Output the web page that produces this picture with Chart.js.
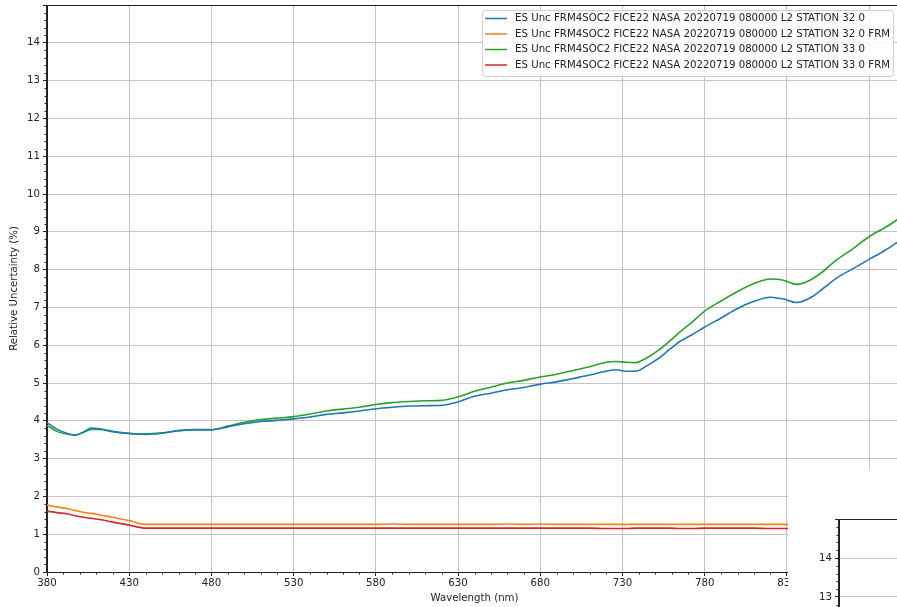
<!DOCTYPE html>
<html>
<head>
<meta charset="utf-8">
<script src="https://cdn.jsdelivr.net/npm/chart.js@4.4.0/dist/chart.umd.min.js"></script>
<style>
  html, body { margin: 0; padding: 0; background: #fff; }
  #frame { position: relative; width: 897px; height: 607px; overflow: hidden; background: #fff; }
  #main-wrap { position: absolute; left: 0; top: 0; }
  /* second copy of the figure that sits on top of the bottom right corner */
  #cover { position: absolute; left: 788px; top: 469px; width: 200px; height: 200px; background: #fff; overflow: hidden; }
</style>
</head>
<body>
<div id="frame">
  <div id="main-wrap"><canvas id="main" width="920" height="607"></canvas></div>
  <div id="cover"><canvas id="copy" width="960" height="670"></canvas></div>
</div>
<script>
//shortcut
function el(id) { return document.getElementById(id); }

// wavelengths (nm) shared by every series
const wavelengths = [380, 386, 392, 397, 402, 407, 412, 420, 430, 440, 450, 460, 470, 480, 490,
  500, 510, 520, 530, 540, 550, 560, 570, 580, 590, 600, 610, 620, 630, 640, 650, 660, 670, 680,
  690, 700, 710, 720, 726, 732, 738, 745, 752, 759, 765, 772, 780, 790, 800, 810, 820, 828, 836,
  844, 852, 860, 870, 880, 890, 900];

// relative uncertainty (%) per series
const station32 = [3.95, 3.78, 3.67, 3.62, 3.70, 3.81, 3.79, 3.72, 3.67, 3.64, 3.67, 3.74, 3.76, 3.76, 3.84,
  3.92, 3.98, 4.01, 4.05, 4.10, 4.17, 4.21, 4.26, 4.32, 4.36, 4.39, 4.40, 4.41, 4.50, 4.65, 4.73, 4.82, 4.88, 4.97,
  5.03, 5.12, 5.21, 5.31, 5.35, 5.31, 5.31, 5.46, 5.65, 5.90, 6.10, 6.27, 6.48, 6.72, 6.97, 7.16, 7.27, 7.22, 7.13,
  7.25, 7.50, 7.77, 8.02, 8.27, 8.52, 8.80];

const station32Frm = [1.77, 1.72, 1.68, 1.63, 1.58, 1.55, 1.51, 1.45, 1.36, 1.26, 1.26, 1.26, 1.26, 1.26, 1.26,
  1.26, 1.26, 1.26, 1.26, 1.26, 1.26, 1.26, 1.26, 1.26, 1.27, 1.26, 1.26, 1.26, 1.26, 1.26, 1.26, 1.27, 1.26, 1.27,
  1.26, 1.26, 1.26, 1.26, 1.26, 1.26, 1.26, 1.26, 1.26, 1.26, 1.26, 1.26, 1.26, 1.26, 1.26, 1.26, 1.26, 1.26, 1.26,
  1.26, 1.26, 1.26, 1.26, 1.26, 1.26, 1.26];

const station33 = [3.88, 3.72, 3.65, 3.62, 3.69, 3.77, 3.77, 3.71, 3.66, 3.65, 3.68, 3.74, 3.77, 3.77, 3.86,
  3.96, 4.03, 4.07, 4.11, 4.18, 4.26, 4.31, 4.36, 4.43, 4.48, 4.51, 4.53, 4.54, 4.63, 4.78, 4.89, 5.00, 5.07, 5.16,
  5.23, 5.33, 5.43, 5.55, 5.57, 5.55, 5.54, 5.67, 5.87, 6.12, 6.35, 6.60, 6.90, 7.17, 7.42, 7.63, 7.75, 7.72, 7.61,
  7.72, 7.95, 8.25, 8.55, 8.87, 9.12, 9.40];

const station33Frm = [1.61, 1.57, 1.54, 1.49, 1.45, 1.42, 1.39, 1.32, 1.24, 1.16, 1.16, 1.16, 1.16, 1.16, 1.16,
  1.16, 1.16, 1.16, 1.16, 1.16, 1.16, 1.16, 1.16, 1.16, 1.16, 1.16, 1.16, 1.16, 1.16, 1.16, 1.16, 1.16, 1.16, 1.16,
  1.16, 1.16, 1.16, 1.15, 1.15, 1.15, 1.16, 1.16, 1.16, 1.16, 1.15, 1.15, 1.16, 1.16, 1.16, 1.16, 1.15, 1.15, 1.15,
  1.15, 1.15, 1.15, 1.15, 1.15, 1.15, 1.15];

const seriesNames = [
  "ES Unc FRM4SOC2 FICE22 NASA 20220719 080000 L2 STATION 32 0",
  "ES Unc FRM4SOC2 FICE22 NASA 20220719 080000 L2 STATION 32 0 FRM",
  "ES Unc FRM4SOC2 FICE22 NASA 20220719 080000 L2 STATION 33 0",
  "ES Unc FRM4SOC2 FICE22 NASA 20220719 080000 L2 STATION 33 0 FRM",
];
const seriesValues = [station32, station32Frm, station33, station33Frm];
const seriesColours = ["#1f77b4", "#ff7f0e", "#2ca02c", "#d62728"];

const xTickValues = [380, 430, 480, 530, 580, 630, 680, 730, 780, 830, 880];

const axisColour = "#222";
const gridColour = "#c4c4c4";
const font = { family: "DejaVu Sans", size: 10.2 };

//minor ticks, full box and the matplotlib-style legend
const boxPlugin = {
  id: "boxAndLegend",
  afterDatasetsDraw(chart) {
    const { ctx, chartArea: a, scales } = chart;
    ctx.save();
    ctx.strokeStyle = axisColour;
    ctx.lineWidth = 1;
    ctx.beginPath();
    for (let i = 1; i < 75; i++) {
      if (i % 5 === 0) continue;
      const y = Math.round(scales.y.getPixelForValue(i / 5)) + 0.5;
      ctx.moveTo(a.left - 2.5, y);
      ctx.lineTo(a.left, y);
    }
    for (let w = 390; w < 900; w += 10) {
      if ((w - 380) % 50 === 0) continue;
      const x = Math.round(scales.x.getPixelForValue(w)) + 0.5;
      ctx.moveTo(x, a.bottom);
      ctx.lineTo(x, a.bottom + 2.5);
    }
    ctx.stroke();
    ctx.strokeRect(Math.round(a.left) - 0.5, Math.round(a.top) + 0.5, a.right - a.left, a.bottom - a.top);

    //legend box
    ctx.font = `${font.size}px "${font.family}"`;
    const textW = Math.max(...seriesNames.map(n => ctx.measureText(n).width));
    const boxW = 5 + 20 + 8 + textW + 3;
    const boxH = 66;
    const right = a.right - 9;
    const left = right - boxW;
    const top = a.top + 5;
    ctx.beginPath();
    ctx.roundRect(left + 0.5, top + 0.5, boxW, boxH, 3);
    ctx.fillStyle = "rgba(255,255,255,0.85)";
    ctx.fill();
    ctx.strokeStyle = "#d0d0d0";
    ctx.stroke();
    ctx.textBaseline = "middle";
    seriesNames.forEach((name, i) => {
      const y = top + 8.5 + i * 15.5;
      ctx.strokeStyle = seriesColours[i];
      ctx.lineWidth = 1.5;
      ctx.beginPath();
      ctx.moveTo(left + 3, y);
      ctx.lineTo(left + 25, y);
      ctx.stroke();
      ctx.fillStyle = axisColour;
      ctx.fillText(name, left + 33, y);
    });
    ctx.restore();
  }
};

function buildChart(id, layout) {
  return new Chart(el(id), {
    type: "line",
    data: {
      datasets: seriesValues.map((vals, i) => ({
        label: seriesNames[i],
        data: wavelengths.map((w, j) => ({ x: w, y: vals[j] })),
        borderColor: seriesColours[i],
        borderWidth: 1.6,
        pointRadius: 0,
        cubicInterpolationMode: "monotone",
      }))
    },
    options: {
      responsive: false,
      animation: false,
      layout: { padding: { top: layout.top, right: layout.right, left: 0, bottom: 0 } },
      plugins: { legend: { display: false }, tooltip: { enabled: false } },
      scales: {
        x: {
          type: "linear", min: 380, max: 900,
          afterBuildTicks: s => { s.ticks = xTickValues.map(v => ({ value: v })); },
          afterFit: s => { s.height = layout.xh; s.paddingLeft = 0; s.paddingRight = 0; },
          ticks: { font, color: axisColour, padding: 1, maxRotation: 0, autoSkip: false },
          grid: { color: gridColour, tickColor: axisColour, tickLength: 4, lineWidth: 1 },
          border: { color: axisColour, width: 1 },
          title: { display: true, text: "Wavelength (nm)", font, color: axisColour, padding: { top: 0, bottom: 3 } }
        },
        y: {
          min: 0, max: 15,
          afterFit: s => { s.width = layout.yw; s.paddingTop = 0; s.paddingBottom = 0; },
          ticks: { stepSize: 1, font, color: axisColour, padding: 3, callback: v => (v === 15 ? "" : v) },
          grid: { color: gridColour, tickColor: axisColour, tickLength: 4, lineWidth: 1 },
          border: { color: axisColour, width: 1 },
          title: { display: true, text: "Relative Uncertainty (%)", font, color: axisColour, padding: { top: 8, bottom: 0 } }
        }
      }
    },
    plugins: [boxPlugin]
  });
}

buildChart("main", { top: 5, right: 18, xh: 35, yw: 47 });
buildChart("copy", { top: 50, right: 18, xh: 35, yw: 51 });
</script>
</body>
</html>
